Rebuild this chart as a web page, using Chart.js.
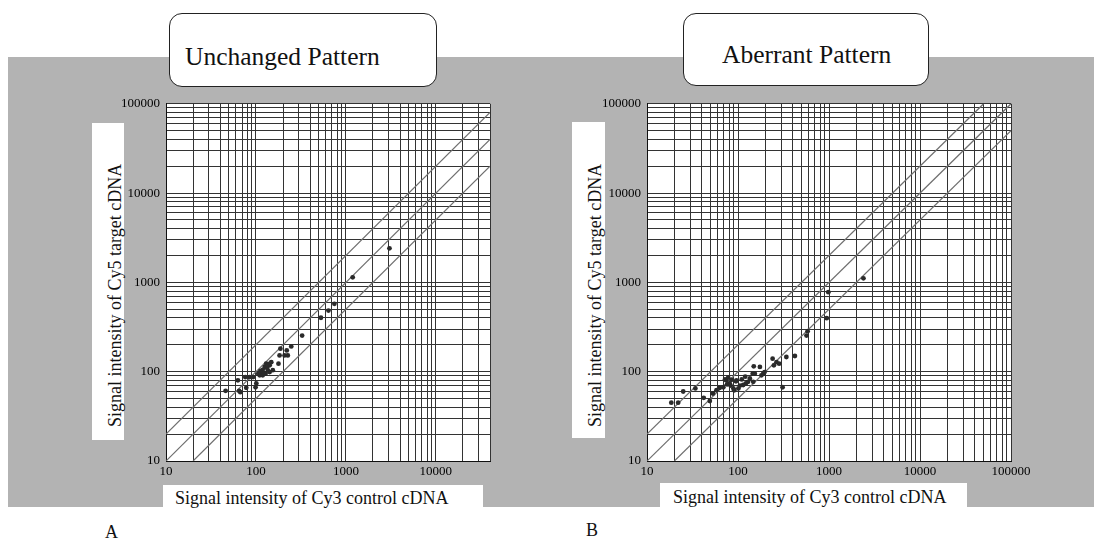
<!DOCTYPE html>
<html><head><meta charset="utf-8">
<script src="https://cdn.jsdelivr.net/npm/chart.js@4.4.1/dist/chart.umd.min.js"></script>
<style>
html,body{margin:0;padding:0;background:#fff;width:1103px;height:539px;overflow:hidden;font-family:'Liberation Serif','Times New Roman',serif;color:#111}
.abs{position:absolute}
#bg{left:8px;top:57px;width:1086px;height:450px;background:#b3b3b3}
.title{border:1.6px solid #222;border-radius:13px;background:#fff;box-sizing:border-box}
.ttext{font-size:25.5px;line-height:25px;white-space:nowrap}
.xlab{background:#fff;box-sizing:border-box}
.xtext{font-size:18px;line-height:18px;white-space:nowrap}
.ylab{background:#fff;box-sizing:border-box;font-size:18px;line-height:18px;white-space:nowrap;transform-origin:0 0;transform:rotate(-90deg)}
.panel{font-size:18px;line-height:18px}
canvas{position:absolute}
</style></head>
<body>
<div id="bg" class="abs"></div>

<div class="abs title" style="left:169px;top:13px;width:268px;height:74px"></div>
<div class="abs ttext" style="left:185px;top:44px">Unchanged Pattern</div>
<div class="abs title" style="left:683px;top:13px;width:246px;height:73px"></div>
<div class="abs ttext" style="left:722px;top:42px">Aberrant Pattern</div>

<div class="abs ylab" style="left:92px;top:440px;width:317px;height:32px;padding-left:13px;padding-top:14px">Signal intensity of Cy5 target cDNA</div>
<div class="abs ylab" style="left:572px;top:438px;width:316px;height:33px;padding-left:11px;padding-top:14px">Signal intensity of Cy5 target cDNA</div>

<div class="abs xlab" style="left:163px;top:485px;width:320px;height:22px"></div>
<div class="abs xtext" style="left:175px;top:489px">Signal intensity of Cy3 control cDNA</div>
<div class="abs xlab" style="left:660px;top:483px;width:307px;height:24px"></div>
<div class="abs xtext" style="left:673px;top:488px">Signal intensity of Cy3 control cDNA</div>

<div class="abs panel" style="left:105px;top:523px">A</div>
<div class="abs panel" style="left:586px;top:521px">B</div>

<canvas id="cA" width="420" height="400" style="left:100px;top:90px"></canvas>
<canvas id="cB" width="460" height="400" style="left:580px;top:90px"></canvas>

<script>
// ---- Data ----
// Panel A: Unchanged Pattern  (Cy3 control, Cy5 target)
const cy3A = [46, 63, 65, 67, 78, 76, 85, 93, 99, 101, 110, 115, 119, 125, 130, 136, 142, 148, 142, 119, 128, 154, 122, 133, 112, 187, 183, 178, 208, 220, 226, 247, 326, 528, 640, 745, 1190, 3050, 106, 140];
const cy5A = [61, 80, 61, 59, 66, 87, 87, 87, 67, 74, 91, 99, 105, 113, 123, 103, 118, 128, 99, 91, 95, 104, 96, 110, 102, 181, 152, 123, 152, 173, 152, 192, 254, 402, 484, 575, 1140, 2410, 95, 122];
// Panel B: Aberrant Pattern
const cy3B = [18.5, 22, 25, 34, 42, 49, 53, 58, 63, 69, 74, 78, 81, 85, 89, 91, 96, 101, 105, 110, 114, 122, 129, 135, 147, 149, 145, 153, 174, 181, 189, 196, 240, 248, 265, 283, 309, 340, 422, 566, 582, 944, 983, 2390, 76, 83, 95, 72, 120];
const cy5B = [45, 45, 60, 65, 51, 47, 57, 62, 66, 67, 80, 86, 74, 81, 65, 62, 80, 65, 70, 82, 71, 74, 77, 84, 77, 115, 95, 95, 113, 91, 95, 99, 140, 118, 128, 123, 67, 146, 150, 254, 284, 398, 777, 1110, 72, 70, 78, 82, 88];
// Guide lines (x1, y1, x2, y2): 2-fold up, equal, 2-fold down
const guideA = [[10, 20, 40000, 80000], [10, 10, 40000, 40000], [20, 10, 40000, 20000]];
const guideB = [[10, 20, 50000, 100000], [10, 10, 100000, 100000], [20, 10, 100000, 50000]];
// Axis ranges and tick labels
const xRangeA = [10, 40000];
const xRangeB = [10, 100000];
const yRange = [10, 100000];
const xLabelsA = [10, 100, 1000, 10000];
const xLabelsB = [10, 100, 1000, 10000, 100000];
const yLabels = [10, 100, 1000, 10000, 100000];

// ---- Helpers ----
function logGrid(min, max) {
  const v = [];
  for (let e = 0; e <= 5; e++) for (let m = 1; m <= 9; m++) {
    const x = m * Math.pow(10, e);
    if (x >= min && x <= max) v.push(x);
  }
  return v;
}
const whiteArea = {
  id: 'whiteArea',
  beforeDraw(c) {
    const a = c.chartArea, ctx = c.ctx;
    ctx.save(); ctx.fillStyle = '#fff';
    ctx.fillRect(a.left, a.top, a.right - a.left, a.bottom - a.top);
    ctx.restore();
  }
};
const tickFont = { family: "'Liberation Serif', 'Times New Roman', serif", size: 13 };

function makeChart(id, xs, ys, guides, xRange, xLabels, yAxisWidth, padRight) {
  const pts = xs.map((x, i) => ({ x: x, y: ys[i] }));
  const datasets = [{
    data: pts, pointRadius: 2.4, pointBackgroundColor: '#2a2a2a', pointBorderWidth: 0, showLine: false
  }];
  guides.forEach(g => datasets.push({
    data: [{ x: g[0], y: g[1] }, { x: g[2], y: g[3] }],
    showLine: true, pointRadius: 0, borderColor: '#6e6e6e', borderWidth: 1.2, fill: false
  }));
  return new Chart(document.getElementById(id), {
    type: 'scatter',
    data: { datasets: datasets },
    options: {
      responsive: false, animation: false, devicePixelRatio: 1,
      layout: { padding: { top: 13, right: padRight, left: 0, bottom: 0 } },
      plugins: { legend: { display: false }, tooltip: { enabled: false } },
      scales: {
        x: {
          type: 'logarithmic', min: xRange[0], max: xRange[1],
          afterBuildTicks: s => { s.ticks = logGrid(xRange[0], xRange[1]).map(v => ({ value: v })); },
          afterFit: s => { s.height = 29; },
          ticks: { autoSkip: false, maxRotation: 0, minRotation: 0, padding: 3, color: '#000', font: tickFont,
                   callback: v => xLabels.includes(v) ? String(v) : '' },
          grid: { color: '#333', lineWidth: 1, drawTicks: false },
          border: { color: '#111', width: 1 }
        },
        y: {
          type: 'logarithmic', min: yRange[0], max: yRange[1],
          afterBuildTicks: s => { s.ticks = logGrid(yRange[0], yRange[1]).map(v => ({ value: v })); },
          afterFit: s => { s.width = yAxisWidth; },
          ticks: { autoSkip: false, padding: 6, color: '#000', font: tickFont,
                   callback: v => yLabels.includes(v) ? String(v) : '' },
          grid: { color: '#333', lineWidth: 1, drawTicks: false },
          border: { color: '#111', width: 1 }
        }
      }
    },
    plugins: [whiteArea]
  });
}
makeChart('cA', cy3A, cy5A, guideA, xRangeA, xLabelsA, 66, 30);
makeChart('cB', cy3B, cy5B, guideB, xRangeB, xLabelsB, 67, 29);
</script>
</body></html>
